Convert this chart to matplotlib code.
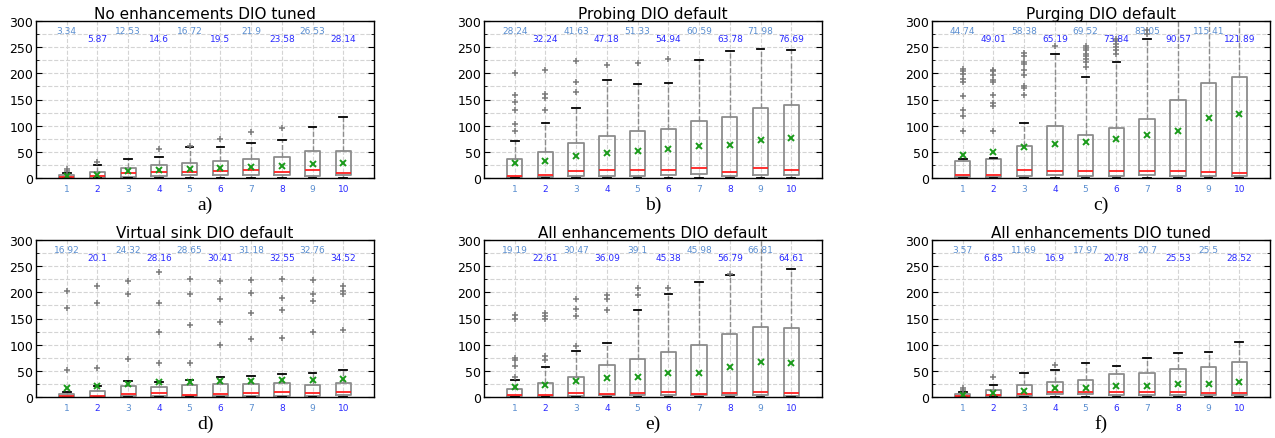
import numpy as np
import matplotlib
matplotlib.use('Agg')
import matplotlib.pyplot as plt

# Panel titles and sub-figure letters
TITLES = ['No enhancements DIO tuned', 'Probing DIO default', 'Purging DIO default',
          'Virtual sink DIO default', 'All enhancements DIO default', 'All enhancements DIO tuned']
LETTERS = ['a)', 'b)', 'c)', 'd)', 'e)', 'f)']
GROUPS = [1, 2, 3, 4, 5, 6, 7, 8, 9, 10]

# Mean values (printed above each box)
MEANS = [
    [3.34, 5.87, 12.53, 14.6, 16.72, 19.5, 21.9, 23.58, 26.53, 28.14],
    [28.24, 32.24, 41.63, 47.18, 51.33, 54.94, 60.59, 63.78, 71.98, 76.69],
    [44.74, 49.01, 58.38, 65.19, 69.52, 73.84, 83.05, 90.57, 115.41, 121.89],
    [16.92, 20.1, 24.32, 28.16, 28.65, 30.41, 31.18, 32.55, 32.76, 34.52],
    [19.19, 22.61, 30.47, 36.09, 39.1, 45.38, 45.98, 56.79, 66.81, 64.61],
    [3.57, 6.85, 11.69, 16.9, 17.97, 20.78, 20.7, 25.53, 25.5, 28.52],
]
# Box statistics
MEDIANS = [
    [2, 3, 9, 11, 11, 13, 16, 11, 15, 10],
    [4.5, 6, 13, 16, 16, 16, 20, 11, 20, 16],
    [5, 5, 15, 13, 13, 13, 13, 13, 11, 10],
    [2, 2, 5, 8, 4.5, 6, 7, 9, 8, 10],
    [4.5, 4.5, 8, 6, 7, 9, 6.5, 8, 10, 8],
    [2, 3, 6, 10, 9, 9, 9, 9, 8, 7.5],
]
Q1 = [
    [0, 0.5, 2, 4, 5, 5, 5, 5, 4, 5],
    [1, 1, 3, 4, 4, 5, 7, 4, 6, 5],
    [1, 1, 3, 6, 4, 4, 6, 4, 4, 4],
    [0, 0, 1, 2, 2, 2, 2, 2, 2, 3],
    [1, 1, 2, 3, 3, 3, 3, 3, 4, 2],
    [0, 1, 2, 5, 5, 3, 3, 3, 3, 3],
]
Q3 = [
    [5, 11, 20, 25, 29, 32, 36, 40, 52, 51],
    [36, 49, 67, 81, 89, 93, 108, 117, 133, 140],
    [32, 37, 62, 100, 82, 96, 112, 149, 181, 193],
    [5, 12, 21, 20, 23, 24, 24, 26, 23, 26],
    [15, 26, 39, 61, 73, 86, 99, 121, 134, 131],
    [5, 13, 22, 28, 33, 44, 46, 54, 58, 67],
]
WHIS_HI = [
    [10, 25, 36, 41, 60, 59, 67, 73, 98, 116],
    [70, 105, 133, 188, 179, 181, 226, 242, 246, 245],
    [36, 39, 105, 237, 193, 221, 266, 320, 320, 320],
    [9.6, 21, 31, 29, 33, 39, 41, 43, 45, 52],
    [32, 57, 88, 104, 167, 196, 220, 234, 320, 245],
    [9, 23, 45, 51, 65, 60, 75, 85, 86, 105],
]
FLIERS = [
    [[13, 18], [31], [], [55], [62], [75], [87], [95], [], []],
    [[89, 103, 130, 145, 159, 200], [130, 153, 161, 207], [165, 183, 224], [216], [219],
     [227], [], [], [], []],
    [[89, 118, 129, 156, 183, 190, 199, 204, 209],
     [89, 137, 144, 159, 183, 188, 197, 204, 207],
     [159, 172, 176, 197, 207, 218, 221, 234, 239],
     [253], [212, 221, 228, 233, 237, 244, 248, 253],
     [237, 244, 250, 257, 261, 265], [276, 282], [], [], []],
    [[51, 170, 203], [56, 180, 212], [72, 196, 221], [65, 125, 180, 239],
     [65, 137, 196, 226], [99, 143, 188, 221], [110, 160, 199, 223],
     [112, 167, 190, 225], [125, 183, 196, 224], [128, 196, 203, 212]],
    [[39, 60, 70, 75, 150, 157], [71, 78, 150, 155, 160], [97, 154, 169, 188],
     [167, 187, 194], [194, 208], [208], [], [235], [], []],
    [[14, 17], [38], [], [62], [], [], [], [], [], []],
]

ODD_COLOR = '#5a8ed0'
EVEN_COLOR = '#2a2aff'

fig = plt.figure(figsize=(12.75, 4.39), dpi=100)
W, H = 1275.0, 439.0
lefts = [36, 484, 932]
rows = [(22, 179), (241, 398)]

for idx in range(6):
    r, c = divmod(idx, 3)
    top, bot = rows[r]
    ax = fig.add_axes([lefts[c] / W, 1 - bot / H, 338 / W, (bot - top) / H])

    stats = []
    for k in range(len(GROUPS)):
        stats.append(dict(med=MEDIANS[idx][k], q1=Q1[idx][k], q3=Q3[idx][k],
                          whislo=0, whishi=WHIS_HI[idx][k], mean=MEANS[idx][k],
                          fliers=FLIERS[idx][k]))
    ax.bxp(stats, positions=GROUPS, widths=0.5, showmeans=True,
           boxprops=dict(color='#8c8c8c', lw=1.3),
           medianprops=dict(color='#ff2020', lw=1.3),
           whiskerprops=dict(color='#8c8c8c', lw=1.0, ls='--'),
           capprops=dict(color='black', lw=1.3),
           flierprops=dict(marker='+', mec='#7a7a7a', ms=5, mew=1.1),
           meanprops=dict(marker='x', mec='#1a9a1a', ms=4, mew=1.4))

    ax.set_xlim(0, 11)
    ax.set_ylim(0, 300)
    ax.set_yticks(np.arange(0, 301, 50))
    ax.set_yticks(np.arange(25, 300, 50), minor=True)
    ax.set_xticks(GROUPS)
    ax.set_xticklabels([str(g) for g in GROUPS])
    ax.tick_params(axis='y', which='both', direction='in', right=True, labelsize=9, pad=2)
    ax.tick_params(axis='y', which='major', length=4)
    ax.tick_params(axis='y', which='minor', length=2)
    ax.tick_params(axis='x', direction='in', length=0, labelsize=6.5, pad=4)
    for k, lab in enumerate(ax.get_xticklabels()):
        lab.set_color(ODD_COLOR if k % 2 == 0 else EVEN_COLOR)
    ax.grid(True, which='both', color='#d4d4d4', ls='--', lw=0.8)
    ax.set_axisbelow(True)
    for sp in ax.spines.values():
        sp.set_linewidth(1.0)

    for k, g in enumerate(GROUPS):
        odd = k % 2 == 0
        ax.text(g, 282 if odd else 266, str(MEANS[idx][k]), ha='center', va='center',
                fontsize=6.5, color=ODD_COLOR if odd else EVEN_COLOR)

    ax.set_title(TITLES[idx], fontsize=11, pad=2)
    fig.text((lefts[c] + 169) / W, 1 - (bot + 26) / H, LETTERS[idx], ha='center', va='center',
             fontsize=14, family='Liberation Serif')

fig.savefig('out.png', dpi=100)
